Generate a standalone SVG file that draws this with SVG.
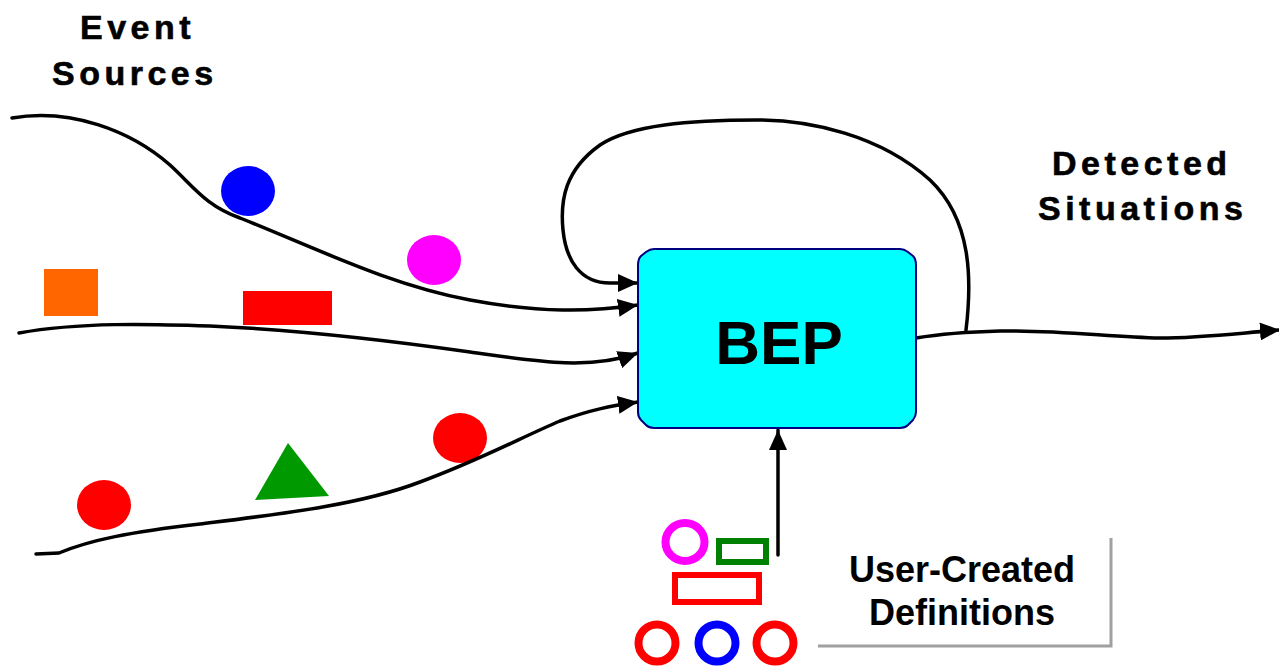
<svg xmlns="http://www.w3.org/2000/svg" width="1279" height="667" viewBox="0 0 1279 667">
<style>
.title{font-family:"Liberation Sans",Arial,sans-serif;font-weight:bold;font-size:34px;letter-spacing:4.5px;fill:#000;stroke:#000;stroke-width:0.6}
.lbl{font-family:"Liberation Sans",Arial,sans-serif;font-weight:bold;font-size:36px;fill:#000;text-anchor:middle}
.flow{fill:none;stroke:#000;stroke-width:3.5;stroke-linecap:round}
.ring{fill:none;stroke-width:8}
</style>
<defs>
<marker id="arr" markerUnits="userSpaceOnUse" markerWidth="22" markerHeight="18" refX="20" refY="9" orient="auto">
<path d="M0,0 L20,9 L0,18 Z" fill="#000"/>
</marker>
</defs>
<rect width="1279" height="667" fill="#fff"/>

<g id="label-event-sources">
<text class="title" x="80" y="39">Event</text>
<text class="title" x="52" y="85">Sources</text>
</g>
<g id="label-detected-situations">
<text class="title" x="1052" y="175">Detected</text>
<text class="title" x="1038" y="220">Situations</text>
</g>

<g id="events">
<ellipse cx="248" cy="191" rx="27" ry="25" fill="#0000ff"/>
<ellipse cx="434" cy="260" rx="27" ry="25" fill="#ff00ff"/>
<rect x="44" y="269" width="54" height="47" fill="#ff6600"/>
<rect x="243" y="291" width="89" height="34" fill="#ff0000"/>
<ellipse cx="104" cy="505" rx="27" ry="25" fill="#ff0000"/>
<polygon points="288,443 255,500 329,496" fill="#009900"/>
<ellipse cx="460" cy="438" rx="27" ry="25" fill="#ff0000"/>
</g>

<g id="connectors">
<path class="flow" d="M12,118 C70,108 130,130 170,165 C195,188 205,205 240,218 C320,250 390,285 470,300 C540,313 590,312 638,305" marker-end="url(#arr)"/>
<path class="flow" d="M19,333 C80,322 150,324 210,326 C300,330 400,342 470,352 C540,362 590,370 638,353" marker-end="url(#arr)"/>
<path class="flow" d="M36,554 L59,553 C90,540 130,532 200,524 C280,514 360,505 420,482 C480,460 520,438 560,421 C590,410 610,406 638,402" marker-end="url(#arr)"/>
<path class="flow" d="M966,330 C972,280 972,220 930,180 C880,135 810,120 757,120 C690,120 630,125 600,145 C565,170 560,200 563,230 C566,260 580,283 610,283 L638,283" marker-end="url(#arr)"/>
<path class="flow" d="M916,338 C940,334 960,332 1000,331 C1060,330 1110,337 1160,338 C1200,338 1240,333 1280,330" marker-end="url(#arr)"/>
<path class="flow" d="M778,555 L778,430" marker-end="url(#arr)"/>
</g>

<g id="bep">
<path d="M654,249 H900 Q904,249 908,252 L913,256 Q916,259 916,265 V412 Q916,416 913,420 L908,425 Q905,428 900,428 H654 Q649,428 646,425 L641,420 Q638,417 638,412 V265 Q638,259 641,256 L646,252 Q650,249 654,249 Z" fill="#00ffff" stroke="#000080" stroke-width="2" stroke-linejoin="round"/>
<text x="779" y="364" font-family="Liberation Sans, Arial, sans-serif" font-weight="bold" font-size="62" text-anchor="middle">BEP</text>
</g>

<g id="definition-icons">
<ellipse class="ring" cx="685" cy="542" rx="19.5" ry="19" stroke="#ff00ff"/>
<rect x="719" y="541" width="47" height="21" fill="none" stroke="#008000" stroke-width="6"/>
<rect x="675" y="575" width="84" height="27" fill="none" stroke="#ff0000" stroke-width="6"/>
<circle class="ring" cx="657" cy="643" r="18.5" stroke="#ff0000" stroke-width="9"/>
<circle class="ring" cx="717" cy="643" r="18.5" stroke="#0000ff" stroke-width="9"/>
<circle class="ring" cx="775" cy="643" r="18.5" stroke="#ff0000" stroke-width="9"/>
</g>

<g id="user-created-definitions">
<path d="M1111,538 V646 H818" fill="none" stroke="#a0a0a0" stroke-width="3"/>
<text class="lbl" x="962" y="582">User-Created</text>
<text class="lbl" x="962" y="625">Definitions</text>
</g>
</svg>
